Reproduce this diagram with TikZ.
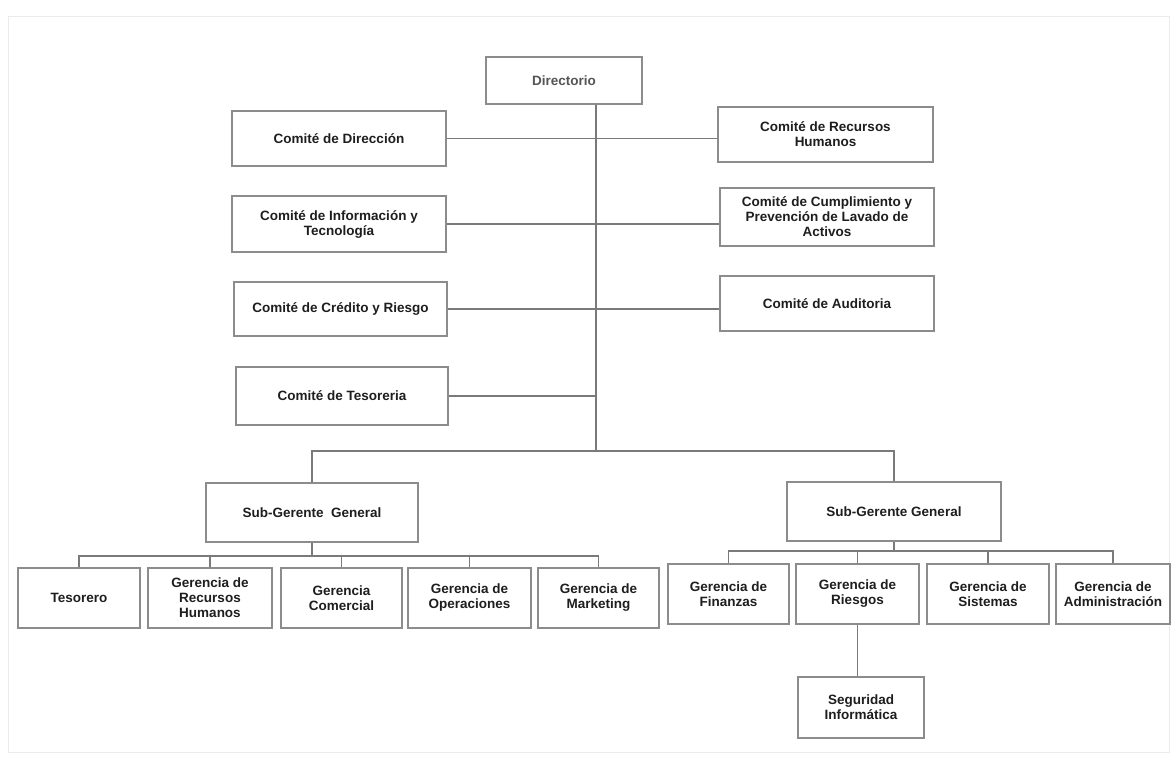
\documentclass[tikz,border=0pt]{standalone}
\usepackage{fontspec}
\setmainfont{Liberation Sans}
\definecolor{boxgray}{HTML}{8C8C8C}
\definecolor{linegray}{HTML}{7A7A7A}
\definecolor{txt}{HTML}{1E1E1E}
\definecolor{dirtxt}{HTML}{555555}
\definecolor{framegray}{HTML}{EBEBEB}
\begin{document}
\begin{tikzpicture}[x=1pt,y=-1pt,
  box/.style={draw=boxgray, line width=1.1pt, fill=white, text=txt,
    font=\bfseries\fontsize{13.5}{15}\selectfont, align=center, inner sep=2pt},
  link/.style={draw=linegray, line width=1.1pt}]
\useasboundingbox (0,0) rectangle (1171,756);
\draw[framegray, line width=1pt] (8,16) rectangle (1169,752);

% top
\node[box, text=dirtxt, minimum width=156pt, minimum height=47pt] (dir) at (564,80.5) {Directorio};
% committees
\node[box, minimum width=214pt, minimum height=55pt] (cd)  at (339,138.5) {Comité de Dirección};
\node[box, minimum width=215pt, minimum height=55pt] (crh) at (825.5,134.5) {Comité de Recursos\\Humanos};
\node[box, minimum width=214pt, minimum height=56pt] (cit) at (339,224) {Comité de Información y\\Tecnología};
\node[box, minimum width=214pt, minimum height=58pt] (ccp) at (827,217) {Comité de Cumplimiento y\\Prevención de Lavado de\\Activos};
\node[box, minimum width=213pt, minimum height=54pt] (ccr) at (340.5,309) {Comité de Crédito y Riesgo};
\node[box, minimum width=214pt, minimum height=55pt] (cau) at (827,303.5) {Comité de Auditoria};
\node[box, minimum width=212pt, minimum height=58pt] (cte) at (342,396) {Comité de Tesoreria};
% sub-gerentes
\node[box, minimum width=212pt, minimum height=59pt] (sgl) at (312,512.5) {Sub-Gerente~ General};
\node[box, minimum width=214pt, minimum height=59pt] (sgr) at (894,511.5) {Sub-Gerente General};
% left managers
\node[box, minimum width=122pt, minimum height=60pt] (tes) at (79,598) {Tesorero};
\node[box, minimum width=124pt, minimum height=60pt] (grh) at (210,598) {Gerencia de\\Recursos\\Humanos};
\node[box, minimum width=121pt, minimum height=60pt] (gco) at (341.5,598) {Gerencia\\Comercial};
\node[box, minimum width=123pt, minimum height=60pt] (gop) at (469.5,598) {Gerencia de\\Operaciones};
\node[box, minimum width=121pt, minimum height=60pt] (gma) at (598.5,598) {Gerencia de\\Marketing};
% right managers
\node[box, minimum width=121pt, minimum height=60pt] (gfi) at (728.5,594) {Gerencia de\\Finanzas};
\node[box, minimum width=123pt, minimum height=60pt] (gri) at (857.5,594) {Gerencia de\\Riesgos};
\node[box, minimum width=122pt, minimum height=60pt] (gsi) at (988,594) {Gerencia de\\Sistemas};
\node[box, minimum width=114pt, minimum height=60pt] (gad) at (1113,594) {Gerencia de\\Administración};
\node[box, minimum width=126pt, minimum height=61pt] (seg) at (861,707.5) {Seguridad\\Informática};

% connectors
\coordinate (tk) at (596,451);
\coordinate (lb) at (312,556);
\coordinate (rb) at (894,551);
\draw[link] (dir.south -| tk) -- (tk);
\draw[link] (cd.east)  -- (cd.east -| crh.west);
\draw[link] (cit.east) -- (cit.east -| ccp.west);
\draw[link] (ccr.east) -- (ccr.east -| cau.west);
\draw[link] (cte.east) -- (cte.east -| tk);
\draw[link] (sgl.north) |- (tk) -| (sgr.north);
\draw[link] (sgl.south) -- (lb);
\foreach \n in {tes,grh,gco,gop,gma} \draw[link] (\n.north) |- (lb);
\draw[link] (sgr.south) -- (rb);
\foreach \n in {gfi,gri,gsi,gad} \draw[link] (\n.north) |- (rb);
\draw[link] (gri.south) -- (gri.south |- seg.north);
\end{tikzpicture}
\end{document}
